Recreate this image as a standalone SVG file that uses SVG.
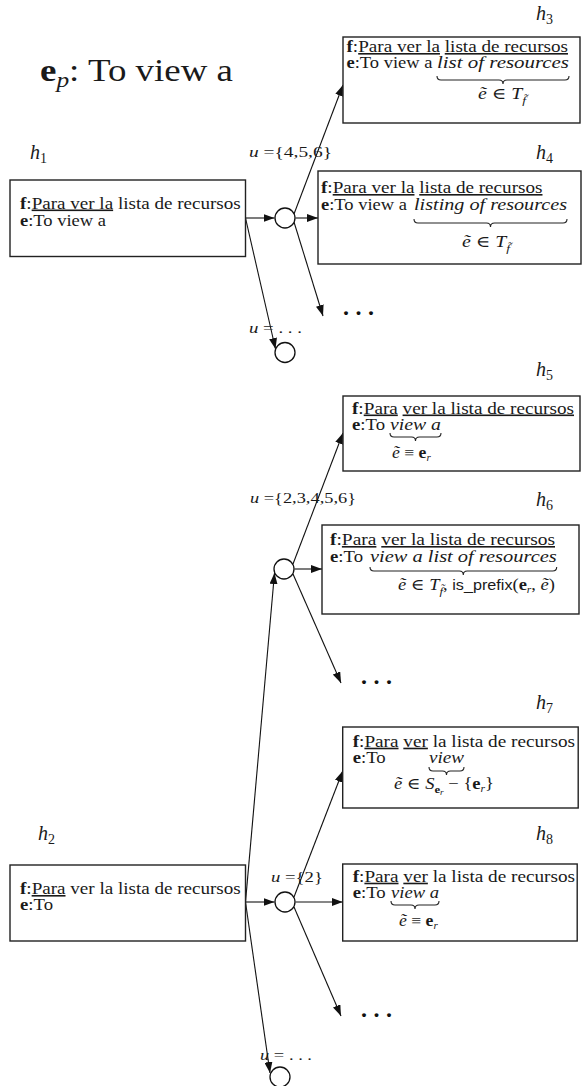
<svg xmlns="http://www.w3.org/2000/svg" width="582" height="1086" viewBox="0 0 582 1086" font-family="'Liberation Serif','DejaVu Serif',serif">
<defs>
<style>
.t{font-family:"Liberation Serif","DejaVu Serif",serif;font-size:16px;fill:#1a1a1a}
.i{font-style:italic}
.b{font-weight:bold}
.u{text-decoration:underline}
.ss{font-family:"Liberation Sans","DejaVu Sans",sans-serif}
.lbl{font-family:"Liberation Serif","DejaVu Serif",serif;font-size:20px;fill:#1a1a1a}
.box{fill:#fff;stroke:#222;stroke-width:1.4}
.circ{fill:#fff;stroke:#111;stroke-width:1.3}
.br{fill:none;stroke:#222;stroke-width:1.1}
.cn{fill:none;stroke:#111;stroke-width:1.1;marker-end:url(#ah)}
.ul{font-size:14.5px}
.dots{font-family:"Liberation Serif","DejaVu Serif",serif;font-size:24px;font-weight:bold;fill:#111}
</style>
<marker id="ah" markerUnits="userSpaceOnUse" markerWidth="11" markerHeight="8" refX="11" refY="4" orient="auto">
<path d="M0,0 L11,4 L0,8 z" fill="#111"/>
</marker>
</defs>
<rect width="582" height="1086" fill="#fff"/>

<text class="t" x="40" y="81" style="font-size:32px" textLength="193" lengthAdjust="spacingAndGlyphs"><tspan class="b">e</tspan><tspan class="i" style="font-size:22px" dy="6">p</tspan><tspan dy="-6">: To view a</tspan></text>

<g id="connectors">
<line class="cn" x1="245.5" y1="218" x2="274.5" y2="218"/>
<line class="cn" x1="294" y1="214" x2="343" y2="85"/>
<line class="cn" x1="295.5" y1="218" x2="318" y2="218"/>
<line class="cn" x1="294" y1="222" x2="323" y2="316"/>
<line class="cn" x1="245.5" y1="218" x2="275.5" y2="349"/>
<line class="cn" x1="245.5" y1="902" x2="274.5" y2="573"/>
<line class="cn" x1="293" y1="564" x2="343" y2="433"/>
<line class="cn" x1="294.5" y1="569" x2="322" y2="569"/>
<line class="cn" x1="293" y1="574" x2="341" y2="683"/>
<line class="cn" x1="245.5" y1="902" x2="274.5" y2="902"/>
<line class="cn" x1="294" y1="897" x2="342.7" y2="771"/>
<line class="cn" x1="295.5" y1="902" x2="342.7" y2="902"/>
<line class="cn" x1="294" y1="907" x2="341" y2="1016"/>
<line class="cn" x1="245.5" y1="902" x2="270" y2="1073"/>
<text class="t ul" x="249" y="157" textLength="83" lengthAdjust="spacingAndGlyphs"><tspan class="i">u</tspan> ={4,5,6}</text>
<text class="t ul" x="249" y="333" textLength="53" lengthAdjust="spacingAndGlyphs"><tspan class="i">u</tspan> = . . .</text>
<text class="t ul" x="250" y="503" textLength="106" lengthAdjust="spacingAndGlyphs"><tspan class="i">u</tspan> ={2,3,4,5,6}</text>
<text class="t ul" x="271" y="882" textLength="52" lengthAdjust="spacingAndGlyphs"><tspan class="i">u</tspan> ={2}</text>
<text class="t ul" x="260" y="1060" textLength="52" lengthAdjust="spacingAndGlyphs"><tspan class="i">u</tspan> = . . .</text>
<text class="dots" x="343" y="315" textLength="31" lengthAdjust="spacing">. . .</text>
<text class="dots" x="361" y="684" textLength="31" lengthAdjust="spacing">. . .</text>
<text class="dots" x="361" y="1017" textLength="31" lengthAdjust="spacing">. . .</text>
</g>

<g id="c1"><circle class="circ" cx="285" cy="218" r="10"/></g>
<g id="cb1"><circle class="circ" cx="285" cy="352.5" r="10"/></g>
<g id="c2"><circle class="circ" cx="284" cy="569" r="10"/></g>
<g id="c3"><circle class="circ" cx="285" cy="902" r="10"/></g>
<g id="cb2"><circle class="circ" cx="280" cy="1077" r="10"/></g>

<g id="h1">
<text class="lbl" x="30" y="159"><tspan class="i">h</tspan><tspan style="font-size:14px" dy="4">1</tspan></text>
<rect class="box" x="10" y="180" width="235.5" height="76.5"/>
<text class="t" x="20" y="208.5" textLength="220.7" lengthAdjust="spacingAndGlyphs"><tspan class="b">f</tspan>:<tspan class="u">Para ver la</tspan> lista de recursos</text>
<text class="t" x="20" y="225.5" textLength="86" lengthAdjust="spacingAndGlyphs"><tspan class="b">e</tspan>:To view a</text>
</g>

<g id="h3">
<text class="lbl" x="536" y="20"><tspan class="i">h</tspan><tspan style="font-size:14px" dy="4">3</tspan></text>
<rect class="box" x="343" y="37" width="237" height="86"/>
<text class="t" x="346.5" y="52" textLength="221.5" lengthAdjust="spacingAndGlyphs"><tspan class="b">f</tspan>:<tspan class="u">Para ver la</tspan> <tspan class="u">lista de recursos</tspan></text>
<text class="t" x="346.5" y="68" textLength="86" lengthAdjust="spacingAndGlyphs"><tspan class="b">e</tspan>:To view a</text>
<text class="t i" x="437" y="68" textLength="132" lengthAdjust="spacingAndGlyphs">list of resources</text>
<path class="br" d="M437,76 q0,4 4,4 H499 q4,0 4,4 q0,-4 4,-4 H565 q4,0 4,-4"/>
<text class="t" x="478" y="99" textLength="48" lengthAdjust="spacingAndGlyphs"><tspan class="i">ẽ</tspan> ∈ <tspan class="i">T</tspan><tspan class="i" style="font-size:11px" dy="5">f̃</tspan></text>
</g>

<g id="h4">
<text class="lbl" x="536" y="159"><tspan class="i">h</tspan><tspan style="font-size:14px" dy="4">4</tspan></text>
<rect class="box" x="318" y="171" width="263" height="93"/>
<text class="t" x="321" y="193" textLength="221.5" lengthAdjust="spacingAndGlyphs"><tspan class="b">f</tspan>:<tspan class="u">Para ver la</tspan> <tspan class="u">lista de recursos</tspan></text>
<text class="t" x="321" y="210" textLength="86" lengthAdjust="spacingAndGlyphs"><tspan class="b">e</tspan>:To view a</text>
<text class="t i" x="414" y="210" textLength="153" lengthAdjust="spacingAndGlyphs">listing of resources</text>
<path class="br" d="M414,219 q0,4 4,4 H486.5 q4,0 4,4 q0,-4 4,-4 H563 q4,0 4,-4"/>
<text class="t" x="462" y="247" textLength="48" lengthAdjust="spacingAndGlyphs"><tspan class="i">ẽ</tspan> ∈ <tspan class="i">T</tspan><tspan class="i" style="font-size:11px" dy="5">f̃</tspan></text>
</g>

<g id="h5">
<text class="lbl" x="536" y="376"><tspan class="i">h</tspan><tspan style="font-size:14px" dy="4">5</tspan></text>
<rect class="box" x="343" y="396" width="237" height="75"/>
<text class="t" x="352" y="413.5" textLength="222" lengthAdjust="spacingAndGlyphs"><tspan class="b">f</tspan>:<tspan class="u">Para</tspan> <tspan class="u">ver la lista de recursos</tspan></text>
<text class="t" x="352" y="429.5" textLength="33" lengthAdjust="spacingAndGlyphs"><tspan class="b">e</tspan>:To</text>
<text class="t i" x="390" y="429.5" textLength="51" lengthAdjust="spacingAndGlyphs">view a</text>
<path class="br" d="M390,433 q0,4 4,4 H411.5 q4,0 4,4 q0,-4 4,-4 H437 q4,0 4,-4"/>
<text class="t" x="392" y="457.5" textLength="38.7" lengthAdjust="spacingAndGlyphs"><tspan class="i">ẽ</tspan> ≡ <tspan class="b">e</tspan><tspan class="i" style="font-size:10px" dy="3">r</tspan></text>
</g>

<g id="h6">
<text class="lbl" x="536" y="506"><tspan class="i">h</tspan><tspan style="font-size:14px" dy="4">6</tspan></text>
<rect class="box" x="322" y="525" width="257" height="89"/>
<text class="t" x="330" y="545" textLength="225" lengthAdjust="spacingAndGlyphs"><tspan class="b">f</tspan>:<tspan class="u">Para</tspan> <tspan class="u">ver la lista de recursos</tspan></text>
<text class="t" x="330" y="561.7" textLength="33" lengthAdjust="spacingAndGlyphs"><tspan class="b">e</tspan>:To</text>
<text class="t i" x="370" y="561.7" textLength="186.7" lengthAdjust="spacingAndGlyphs">view a list of resources</text>
<path class="br" d="M370,567 q0,4 4,4 H459.3 q4,0 4,4 q0,-4 4,-4 H552.7 q4,0 4,-4"/>
<text class="t" x="398" y="589.5" textLength="157" lengthAdjust="spacingAndGlyphs"><tspan class="i">ẽ</tspan> ∈ <tspan class="i">T</tspan><tspan class="i" style="font-size:11px" dy="5">f̃</tspan><tspan dy="-5">, </tspan><tspan class="ss" style="font-size:14px">is_prefix</tspan>(<tspan class="b">e</tspan><tspan class="i" style="font-size:10px" dy="3">r</tspan><tspan dy="-3">, </tspan><tspan class="i">ẽ</tspan>)</text>
</g>

<g id="h7">
<text class="lbl" x="536" y="709"><tspan class="i">h</tspan><tspan style="font-size:14px" dy="4">7</tspan></text>
<rect class="box" x="342.7" y="727" width="235.5" height="81"/>
<text class="t" x="352.7" y="746.7" textLength="222.3" lengthAdjust="spacingAndGlyphs"><tspan class="b">f</tspan>:<tspan class="u">Para</tspan> <tspan class="u">ver</tspan> la lista de recursos</text>
<text class="t" x="352.7" y="762.7" textLength="33" lengthAdjust="spacingAndGlyphs"><tspan class="b">e</tspan>:To</text>
<text class="t i" x="429" y="762.7" textLength="35" lengthAdjust="spacingAndGlyphs">view</text>
<path class="br" d="M429,767 q0,4 4,4 H442.5 q4,0 4,4 q0,-4 4,-4 H460 q4,0 4,-4"/>
<text class="t" x="394" y="789" textLength="100" lengthAdjust="spacingAndGlyphs"><tspan class="i">ẽ</tspan> ∈ <tspan class="i">S</tspan><tspan class="b" style="font-size:11px" dy="4">e</tspan><tspan class="i" style="font-size:8px" dy="2">r</tspan><tspan dy="-6"> − {</tspan><tspan class="b">e</tspan><tspan class="i" style="font-size:10px" dy="3">r</tspan><tspan dy="-3">}</tspan></text>
</g>

<g id="h8">
<text class="lbl" x="536" y="840"><tspan class="i">h</tspan><tspan style="font-size:14px" dy="4">8</tspan></text>
<rect class="box" x="342.7" y="864" width="234.5" height="77"/>
<text class="t" x="352.7" y="881.7" textLength="222.3" lengthAdjust="spacingAndGlyphs"><tspan class="b">f</tspan>:<tspan class="u">Para</tspan> <tspan class="u">ver</tspan> la lista de recursos</text>
<text class="t" x="352.7" y="897.7" textLength="33" lengthAdjust="spacingAndGlyphs"><tspan class="b">e</tspan>:To</text>
<text class="t i" x="391" y="897.7" textLength="48" lengthAdjust="spacingAndGlyphs">view a</text>
<path class="br" d="M391,901 q0,4 4,4 H411 q4,0 4,4 q0,-4 4,-4 H435 q4,0 4,-4"/>
<text class="t" x="399" y="925.7" textLength="38.7" lengthAdjust="spacingAndGlyphs"><tspan class="i">ẽ</tspan> ≡ <tspan class="b">e</tspan><tspan class="i" style="font-size:10px" dy="3">r</tspan></text>
</g>

<g id="h2">
<text class="lbl" x="38" y="840"><tspan class="i">h</tspan><tspan style="font-size:14px" dy="4">2</tspan></text>
<rect class="box" x="10" y="865" width="235.5" height="76"/>
<text class="t" x="20" y="894" textLength="220.7" lengthAdjust="spacingAndGlyphs"><tspan class="b">f</tspan>:<tspan class="u">Para</tspan> ver la lista de recursos</text>
<text class="t" x="20" y="910" textLength="33" lengthAdjust="spacingAndGlyphs"><tspan class="b">e</tspan>:To</text>
</g>
</svg>
